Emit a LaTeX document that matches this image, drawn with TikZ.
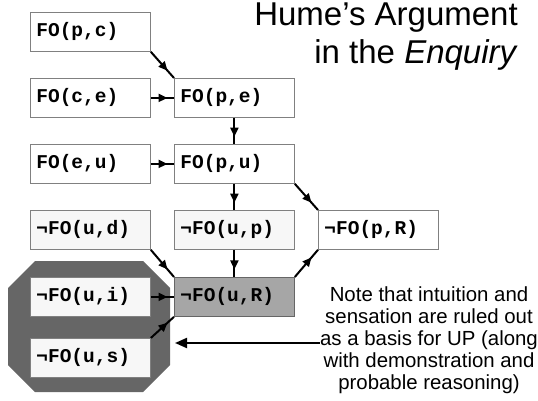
\documentclass[tikz,border=0pt]{standalone}
\usepackage{fontspec}
\setmainfont{Liberation Sans}
\newfontfamily\boxfont{Liberation Mono}
\usetikzlibrary{arrows.meta,decorations.markings}
\definecolor{octgray}{HTML}{666666}
\definecolor{darkfill}{HTML}{A6A6A6}
\definecolor{lightfill}{HTML}{F7F7F7}
\definecolor{boxline}{HTML}{808080}
\begin{document}
\begin{tikzpicture}[x=1pt,y=-1pt,
  fobox/.style={draw=boxline, line width=0.8pt, fill=white, anchor=north west,
    minimum height=39pt, text width=108pt, inner xsep=6pt, inner ysep=0pt,
    align=left, font=\boxfont\bfseries\fontsize{19.5}{22}\selectfont},
  lightbox/.style={fobox, fill=lightfill},
  darkbox/.style={fobox, fill=darkfill, draw=black!60},
  conn/.style={line width=2pt, postaction={decorate},
    decoration={markings, mark=at position 0.72 with {\arrow{Triangle[length=9pt,width=8pt]}}}},
]
\useasboundingbox (0,0) rectangle (538,401);
% octagon background
\fill[octgray] (35,261) -- (143,261) -- (170,288) -- (170,365) -- (143,392) -- (35,392) -- (8,365) -- (8,288) -- cycle;
% title
\node[anchor=base east, inner sep=0pt, font=\fontsize{33}{40}\selectfont] (t1) at (518,25.5) {Hume’s Argument};
\node[anchor=base east, inner sep=0pt, font=\fontsize{33}{40}\selectfont] (t2) at (518,64) {in the \textit{Enquiry}};
% boxes
\node[fobox] (pc) at (30,12) {FO(p,c)};
\node[fobox] (ce) at (30,78) {FO(c,e)};
\node[fobox] (pe) at (174,78) {FO(p,e)};
\node[fobox] (eu) at (30,144) {FO(e,u)};
\node[fobox] (pu) at (174,144) {FO(p,u)};
\node[lightbox] (nud) at (30,210) {¬FO(u,d)};
\node[lightbox] (nup) at (174,210) {¬FO(u,p)};
\node[fobox] (npR) at (318,210) {¬FO(p,R)};
\node[lightbox] (nui) at (30,277) {¬FO(u,i)};
\node[darkbox] (nuR) at (174,277) {¬FO(u,R)};
\node[lightbox] (nus) at (30,338) {¬FO(u,s)};
% connectors
\draw[conn] (pc.south east) -- (pe.north west);
\draw[conn] (ce.east) -- (pe.west);
\draw[conn] (pe.south) -- (pu.north);
\draw[conn] (eu.east) -- (pu.west);
\draw[conn] (pu.south) -- (nup.north);
\draw[conn] (pu.south east) -- (npR.north west);
\draw[conn] (nup.south) -- (nuR.north);
\draw[conn] (nuR.north east) -- (npR.south west);
\draw[conn] (nud.south east) -- (nuR.north west);
\draw[conn] (nui.east) -- (nuR.west);
\draw[conn] (nus.north east) -- (nuR.south west);
% note
\node[anchor=north, inner sep=0pt, align=center, font=\fontsize{20.4}{21.8}\selectfont] (note) at (429,287)
  {Note that intuition and\\ sensation are ruled out\\ as a basis for UP (along\\ with demonstration and\\ probable reasoning)};
\coordinate (notey) at (0,343);
\coordinate (tip) at (175,343);
\draw[line width=2pt, -{Triangle[length=12pt,width=10pt]}] (note.west |- notey) -- (tip);
\end{tikzpicture}
\end{document}
